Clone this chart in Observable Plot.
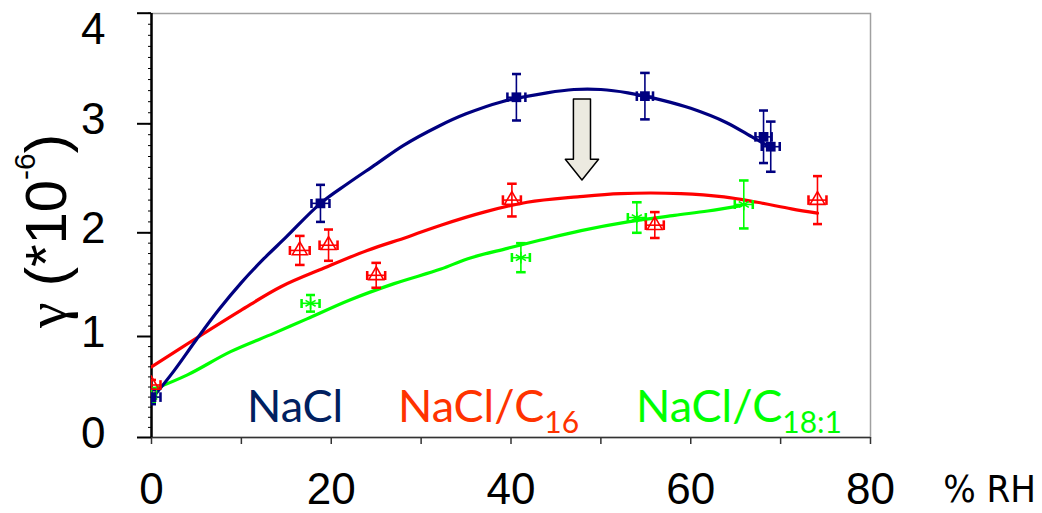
<!DOCTYPE html>
<html><head><meta charset="utf-8">
<script src="https://cdn.jsdelivr.net/npm/d3@7"></script>
<script src="https://cdn.jsdelivr.net/npm/@observablehq/plot@0.6"></script>
<style>body{margin:0;background:#fff;} svg{display:block;}</style>
</head><body><div id="chart"></div>
<script>
// ---- Data ----
const seriesNames = ["NaCl", "NaCl/C16", "NaCl/C18:1"];
const seriesColors = ["#000080", "#FF0000", "#00FF00"];

// measured points (x = % RH, y = gamma *1e-6)
const naclX    = [0, 18.8, 40.6, 54.9, 68.1, 68.9];
const naclY    = [0.40, 2.27, 3.24, 3.25, 2.88, 2.79];
const naclYErr = [0.07, 0.17, 0.21, 0.21, 0.24, 0.23];
const naclXErr = [1.0, 1.0, 1.0, 0.9, 0.9, 1.0];

const c16X    = [0, 16.5, 19.7, 25.0, 40.1, 56.0, 74.1];
const c16Y    = [0.52, 1.83, 1.88, 1.59, 2.30, 2.07, 2.30];
const c16YErr = [0.05, 0.14, 0.15, 0.12, 0.15, 0.12, 0.22];
const c16XErr = [1.0, 1.1, 1.0, 1.0, 1.0, 1.0, 1.0];

const c18X    = [0, 17.7, 41.1, 54.0, 65.9];
const c18Y    = [0.42, 1.32, 1.76, 2.14, 2.26];
const c18YErr = [0.07, 0.08, 0.14, 0.14, 0.22];
const c18XErr = [0.5, 1.0, 1.0, 1.0, 1.0];

// fitted curves
const fitNaClX = [0, 2.5, 5, 7.5, 10, 12.5, 15, 18.8, 21.8, 25, 28, 32, 35, 39, 44, 47, 50, 53, 57, 60, 64, 67, 69];
const fitNaClY = [0.38, 0.66, 0.97, 1.26, 1.52, 1.75, 1.96, 2.27, 2.45, 2.63, 2.80, 2.98, 3.09, 3.20, 3.28, 3.31, 3.31, 3.28, 3.21, 3.14, 3.01, 2.87, 2.78];
const fitC16X = [0, 5.1, 9.9, 14.4, 19.2, 24, 28.5, 32.2, 37, 41.8, 47.4, 52.2, 58.9, 63.7, 67.4, 71.2, 74.1];
const fitC16Y = [0.70, 0.99, 1.25, 1.48, 1.66, 1.83, 1.96, 2.07, 2.19, 2.28, 2.33, 2.36, 2.36, 2.33, 2.28, 2.22, 2.18];
const fitC18X = [0, 4, 8.8, 13.6, 17.3, 22, 27, 32.2, 35.2, 39.6, 43.3, 47.8, 53, 58.2, 61.9, 65.6];
const fitC18Y = [0.47, 0.62, 0.85, 1.03, 1.17, 1.35, 1.51, 1.65, 1.75, 1.85, 1.93, 2.02, 2.10, 2.16, 2.20, 2.25];

// axes
const xTicks = [0, 10, 20, 30, 40, 50, 60, 70, 80];
const xTickLabels = [0, 20, 40, 60, 80];
const yTicks = [0, 1, 2, 3, 4];
const yMinorTicks = d3.range(41).map(i => i / 10);
const yTickPx = [437, 336, 232.3, 123.3, 12.7]; // the original axis is slightly uneven

// annotation arrow (data units)
const arrow = {x: 47.95, top: 3.22, neck: 2.67, tip: 2.48, shaftHalf: 0.95, headHalf: 1.85};

// ---- build tables ----
const pts = (X, Y, YE, XE, s) => X.map((x, i) => ({x, y: Y[i], ye: YE[i], xe: XE[i], s}));
const pNaCl = pts(naclX, naclY, naclYErr, naclXErr, seriesNames[0]);
const pC16 = pts(c16X, c16Y, c16YErr, c16XErr, seriesNames[1]);
const pC18 = pts(c18X, c18Y, c18YErr, c18XErr, seriesNames[2]);
const fit = (X, Y, s) => X.map((x, i) => ({x, y: Y[i], s}));
const fNaCl = fit(fitNaClX, fitNaClY, seriesNames[0]);
const fC16 = fit(fitC16X, fitC16Y, seriesNames[1]);
const fC18 = fit(fitC18X, fitC18Y, seriesNames[2]);

const arrowPts = [
  {y: arrow.top, x1: arrow.x - arrow.shaftHalf, x2: arrow.x + arrow.shaftHalf},
  {y: arrow.neck, x1: arrow.x - arrow.shaftHalf, x2: arrow.x + arrow.shaftHalf},
  {y: arrow.neck, x1: arrow.x - arrow.headHalf, x2: arrow.x + arrow.headHalf},
  {y: arrow.tip, x1: arrow.x, x2: arrow.x}
];

// piecewise mapping of the (slightly uneven) original y axis
const yPiece = d3.scaleLinear().domain(yTicks.map(d => d / 4)).range(yTickPx);
const yInterp = (a, b) => t => yPiece(t);

function errMarks(data, color) {
  return [
    Plot.link(data, {x1: "x", x2: "x", y1: d => d.y - d.ye, y2: d => d.y + d.ye, stroke: color, strokeWidth: 1.6, markerStart: "tick", markerEnd: "tick", clip: true}),
    Plot.link(data, {x1: d => d.x - d.xe, x2: d => d.x + d.xe, y1: "y", y2: "y", stroke: color, strokeWidth: 1.6, markerStart: "tick", markerEnd: "tick", clip: true})
  ];
}

const font = "'Liberation Sans', Arial, sans-serif";

const chart = Plot.plot({
  width: 1042,
  height: 513,
  marginTop: 13,
  marginRight: 172,
  marginBottom: 76,
  marginLeft: 151,
  style: {background: "#fff", fontFamily: font},
  x: {domain: [0, 80], axis: null},
  y: {domain: [0, 4], range: [437, 12.7], interpolate: yInterp, axis: null},
  marks: [
    Plot.frame({stroke: "#a0a0a0", strokeWidth: 1.5}),
    Plot.axisX({ticks: xTicks, tickSize: 7, tickFormat: () => "", stroke: "#333", strokeWidth: 1.5, label: null}),
    Plot.ruleY([0], {stroke: "#333", strokeWidth: 1.5}),
    Plot.axisY({ticks: yMinorTicks, tickSize: 3, tickFormat: () => "", stroke: "#000", strokeWidth: 1, label: null}),
    Plot.axisY({ticks: yTicks, tickSize: 14, tickFormat: () => "", stroke: "#000", strokeWidth: 2, label: null}),
    Plot.ruleX([0], {stroke: "#000", strokeWidth: 2.5}),
    // tick labels
    Plot.text(xTickLabels, {x: d => d, frameAnchor: "bottom", dy: 66, lineAnchor: "bottom", text: d => String(d), fontSize: 44, fill: "#000"}),
    Plot.text(yTicks.filter(d => d < 4), {y: d => d, frameAnchor: "left", dx: -46, dy: -4, textAnchor: "end", lineAnchor: "middle", text: d => String(d), fontSize: 44, fill: "#000"}),
    Plot.text(yTicks.filter(d => d === 4), {y: d => d, frameAnchor: "left", dx: -46, textAnchor: "end", lineAnchor: "top", text: d => String(d), fontSize: 44, fill: "#000"}),
    // fitted curves
    Plot.line(fC18, {x: "x", y: "y", stroke: seriesColors[2], strokeWidth: 3.2, curve: "catmull-rom", clip: true}),
    Plot.line(fC16, {x: "x", y: "y", stroke: seriesColors[1], strokeWidth: 3.2, curve: "catmull-rom", clip: true}),
    Plot.line(fNaCl, {x: "x", y: "y", stroke: seriesColors[0], strokeWidth: 3.2, curve: "catmull-rom", clip: true}),
    // error bars
    ...errMarks(pC18, seriesColors[2]),
    ...errMarks(pC16, seriesColors[1]),
    ...errMarks(pNaCl, seriesColors[0]),
    // points
    Plot.dot(pC18, {x: "x", y: "y", symbol: "asterisk", r: 5.5, stroke: seriesColors[2], strokeWidth: 1.6, clip: true}),
    Plot.dot(pC16, {x: "x", y: "y", symbol: "triangle", r: 5.5, stroke: seriesColors[1], fill: "none", strokeWidth: 1.6, clip: true}),
    Plot.dot(pNaCl, {x: "x", y: "y", symbol: "square", r: 5.5, fill: seriesColors[0], stroke: "none", clip: true}),
    // arrow
    Plot.areaX(arrowPts, {y: "y", x1: "x1", x2: "x2", fill: "#ECEAE0", stroke: "#000", strokeWidth: 1.5})
  ]
});

document.getElementById("chart").appendChild(chart);

// ---- text annotations (axis titles, legend) ----
const svg = d3.select(chart);
const t = svg.append("text")
  .attr("transform", "translate(66,231) rotate(-90)")
  .attr("text-anchor", "middle")
  .attr("font-family", font)
  .attr("font-size", 58)
  .attr("fill", "#000");
t.append("tspan").attr("font-family", "'Liberation Serif', 'DejaVu Serif', serif").text("γ");
t.append("tspan").text(" (*10");
t.append("tspan").attr("font-size", 30).attr("dy", -31).text("-6");
t.append("tspan").attr("dy", 31).text(")");

svg.append("text")
  .attr("x", 1036).attr("y", 502)
  .attr("text-anchor", "end")
  .attr("font-family", "'Liberation Sans Narrow', 'DejaVu Sans Condensed', Arial, sans-serif")
  .attr("font-size", 38)
  .attr("fill", "#000")
  .text("% RH");

const legFont = "Lato, 'Open Sans', sans-serif";
const legend = [
  {main: "NaCl", sub: "", x: 247, color: "#002060"},
  {main: "NaCl/C", sub: "16", x: 398, color: "#FF3300"},
  {main: "NaCl/C", sub: "18:1", x: 636, color: "#00FF00"}
];
legend.forEach(l => {
  const e = svg.append("text").attr("x", l.x).attr("y", 422)
    .attr("text-anchor", "start")
    .attr("font-family", legFont).attr("font-size", 45).attr("fill", l.color);
  e.append("tspan").text(l.main);
  if (l.sub) e.append("tspan").attr("font-size", 30).attr("dy", 11).text(l.sub);
});
</script>
</body></html>
